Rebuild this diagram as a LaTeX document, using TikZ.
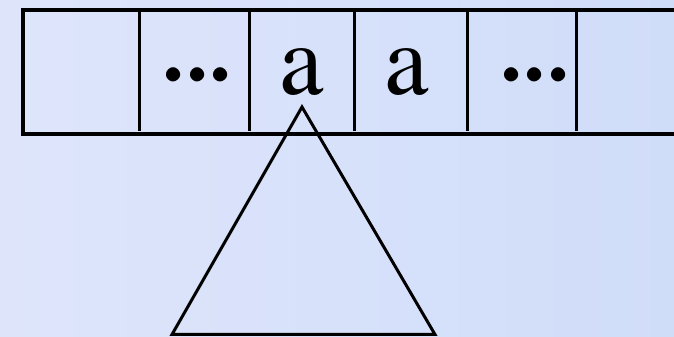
\documentclass[tikz,border=0pt]{standalone}
\usepackage{fontspec}
\newfontfamily\tfont{texgyretermes-regular.otf}
\definecolor{bgL}{RGB}{222,229,251}
\definecolor{bgR}{RGB}{208,221,249}
\begin{document}
\begin{tikzpicture}[x=1pt,y=1pt,
  tape/.style={line width=4pt},
  divider/.style={line width=3pt},
  sym/.style={font=\tfont\fontsize{100}{100}\selectfont, inner sep=0pt, anchor=base},
  dots/.style={font=\tfont\fontsize{128}{128}\selectfont, inner sep=0pt, anchor=base},
  tri/.style={line width=3pt, line join=miter}]
\useasboundingbox (0,0) rectangle (674,337);
\shade[left color=bgL, right color=bgR] (0,0) rectangle (674,337);
\begin{scope}
\clip (0,0) rectangle (674,337);
% tape
\draw[tape] (690,326.5) -- (23,326.5) -- (23,202.5) -- (690,202.5);
\foreach \x/\n in {139.5/d1,249/d2,354/d3,467/d4,576/d5}{
  \coordinate (\n t) at (\x,326.5);
  \coordinate (\n b) at (\x,206);
  \draw[divider] (\n t) -- (\n b);
}
% symbols
\node[dots] (c2) at (197,256) {.\kern-8.5pt.\kern-8.5pt.};
\node[sym] (c3) at (302,242) {a};
\node[sym] (c4) at (407,242) {a};
\node[dots] (c5) at (534.5,256) {.\kern-8.5pt.\kern-8.5pt.};
% triangle
\coordinate (apex) at (302,230);
\coordinate (bl) at (172,2.5);
\coordinate (br) at (435,2.5);
\draw[tri] (apex) -- (bl) -- (br) -- cycle;
\end{scope}
\end{tikzpicture}
\end{document}
